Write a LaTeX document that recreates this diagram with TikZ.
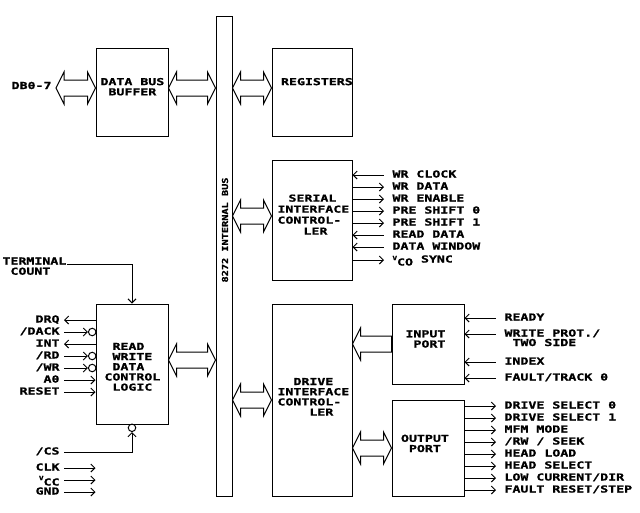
\documentclass[tikz,border=0pt]{standalone}
\usepackage{fontspec}
\newfontfamily\chipfont[FakeStretch=1.38,FakeBold=1.2]{DejaVu Sans Mono}
\newfontfamily\busfont[FakeStretch=1.25,FakeBold=1]{DejaVu Sans Mono}
\usetikzlibrary{arrows.meta,calc}
\newcommand\vsub[1]{\raisebox{2.5pt}{\fontsize{5.5}{6}\selectfont V}\raisebox{-3pt}{#1}}

\tikzset{
  blk/.style={draw,inner sep=0pt},
  txt/.style={font={\fontsize{9.6}{10.2}\chipfont\bfseries},align=left,inner sep=0pt,anchor=north west},
  sig/.style={font={\fontsize{9.6}{10.2}\chipfont\bfseries},inner sep=0pt,text height=7pt,text depth=2pt},
  bub/.style={circle,draw,minimum size=7.5pt,inner sep=0pt},
  fat/.style={to path={let \p1=(\tikztostart),\p2=(\tikztotarget) in
    (\x1,\y1) -- (\x1+8pt,\y1+16pt) -- (\x1+8pt,\y1+8pt) -- (\x2-8pt,\y1+8pt)
    -- (\x2-8pt,\y1+16pt) -- (\x2,\y1) -- (\x2-8pt,\y1-16pt) -- (\x2-8pt,\y1-8pt)
    -- (\x1+8pt,\y1-8pt) -- (\x1+8pt,\y1-16pt) -- cycle}},
  fatin/.style={to path={let \p1=(\tikztostart),\p2=(\tikztotarget) in
    (\x2,\y2) -- (\x2+8pt,\y2+16pt) -- (\x2+8pt,\y2+8pt) -- (\x1,\y2+8pt)
    -- (\x1,\y2-8pt) -- (\x2+8pt,\y2-8pt) -- (\x2+8pt,\y2-16pt) -- cycle}},
}

\begin{document}
\begin{tikzpicture}[x=1pt,y=-1pt,line width=1pt,>={Straight Barb[length=4pt,width=8pt]}]
\useasboundingbox (0,0) rectangle (640,512);

% bus and blocks
\node (bus) [blk,minimum width=16pt,minimum height=480pt] at (224,256) {};
\node (dbb) [blk,minimum width=72pt,minimum height=88pt] at (132,92) {};
\node (reg) [blk,minimum width=80pt,minimum height=88pt] at (312,92) {};
\node (sic) [blk,minimum width=80pt,minimum height=120pt] at (312,220) {};
\node (dic) [blk,minimum width=80pt,minimum height=192pt] at (312,400) {};
\node (ipt) [blk,minimum width=72pt,minimum height=80pt] at (428,344) {};
\node (opt) [blk,minimum width=72pt,minimum height=96pt] at (428,448) {};
\node (rwl) [blk,minimum width=72pt,minimum height=120pt] at (132,364) {};

\node (bustxt) [rotate=90,inner sep=0pt,font={\fontsize{8.2}{9}\busfont\bfseries}] at (225,230) {8272 INTERNAL BUS};
\node (dbbtxt) [txt] at (100,77.5) {DATA BUS\\\phantom{D}BUFFER};
\node (regtxt) [txt] at (280.5,77.5) {REGISTERS};
\node (sictxt) [txt,font={\fontsize{9.6}{11}\chipfont\bfseries}] at (277,194) {\hspace*{11pt}SERIAL\\INTERFACE\\CONTROL-\\\hspace*{26pt}LER};
\node (dictxt) [txt] at (277,377.5) {\phantom{DR}DRIVE\\INTERFACE\\CONTROL-\\\phantom{CONT}LER};
\node (ipttxt) [txt] at (405,329.8) {INPUT\\\phantom{I}PORT};
\node (opttxt) [txt] at (400.5,434.2) {OUTPUT\\\phantom{O}PORT};
\node (rwltxt) [txt] at (104,342.2) {\phantom{C}READ\\\phantom{C}WRITE\\\phantom{C}DATA\\CONTROL\\\phantom{C}LOGIC};

% wide data paths
\node (db) [sig,anchor=east,inner xsep=4pt,text depth=5pt] at (56,88) {DB0-7};
\draw[fat] (db.east) to (dbb.west |- db.east);
\draw[fat] (dbb.east |- 0,88) to (bus.west |- 0,88);
\draw[fat] (bus.east |- 0,88) to (reg.west |- 0,88);
\draw[fat] (bus.east |- 0,216) to (sic.west |- 0,216);
\draw[fat] (rwl.east |- 0,360) to (bus.west |- 0,360);
\draw[fat] (bus.east |- dic.west) to (dic.west);
\draw[fatin] (ipt.west) to (dic.east |- ipt.west);
\draw[fat] (dic.east |- opt.west) to (opt.west);

% serial interface lines
\node (wrclk) [sig,anchor=west] at (392,175) {WR CLOCK};
\node (wrdat) [sig,anchor=west] at (392,187) {WR DATA};
\node (wren) [sig,anchor=west] at (392,199) {WR ENABLE};
\node (ps0) [sig,anchor=west] at (392,211) {PRE SHIFT 0};
\node (ps1) [sig,anchor=west] at (392,223) {PRE SHIFT 1};
\node (rdat) [sig,anchor=west] at (392,235) {READ DATA};
\node (dwin) [sig,anchor=west] at (392,247) {DATA WINDOW};
\node (vco) [sig,anchor=west] at (392,260) {\vsub{CO} SYNC};
\draw[<-] (sic.east |- wrclk.west) -- ([xshift=-8pt]wrclk.west);
\draw[->] (sic.east |- wrdat.west) -- ([xshift=-8pt]wrdat.west);
\draw[->] (sic.east |- wren.west) -- ([xshift=-8pt]wren.west);
\draw[->] (sic.east |- ps0.west) -- ([xshift=-8pt]ps0.west);
\draw[->] (sic.east |- ps1.west) -- ([xshift=-8pt]ps1.west);
\draw[<-] (sic.east |- rdat.west) -- ([xshift=-8pt]rdat.west);
\draw[<-] (sic.east |- dwin.west) -- ([xshift=-8pt]dwin.west);
\draw[->] (sic.east |- vco.west) -- ([xshift=-8pt]vco.west);

% input port lines
\node (rdy) [sig,anchor=west] at (504,318) {READY};
\node (wp) [sig,anchor=west] at (504,334) {WRITE PROT./};
\node (ts) [sig,anchor=west] at (512,343.5) {TWO SIDE};
\node (idx) [sig,anchor=west] at (504,362) {INDEX};
\node (flt) [sig,anchor=west] at (504,378) {FAULT/TRACK 0};
\draw[<-] (ipt.east |- rdy.west) -- ([xshift=-8pt]rdy.west);
\draw[<-] (ipt.east |- wp.west) -- ([xshift=-8pt]wp.west);
\draw[<-] (ipt.east |- idx.west) -- ([xshift=-8pt]idx.west);
\draw[<-] (ipt.east |- flt.west) -- ([xshift=-8pt]flt.west);

% output port lines
\node (ds0) [sig,anchor=west] at (504,406) {DRIVE SELECT 0};
\node (ds1) [sig,anchor=west] at (504,418) {DRIVE SELECT 1};
\node (mfm) [sig,anchor=west] at (504,430) {MFM MODE};
\node (rws) [sig,anchor=west] at (504,442) {/RW / SEEK};
\node (hl) [sig,anchor=west] at (504,454) {HEAD LOAD};
\node (hs) [sig,anchor=west] at (504,466) {HEAD SELECT};
\node (lcd) [sig,anchor=west] at (504,478) {LOW CURRENT/DIR};
\node (frs) [sig,anchor=west] at (504,490) {FAULT RESET/STEP};
\draw[->] (opt.east |- ds0.west) -- ([xshift=-8pt]ds0.west);
\draw[->] (opt.east |- ds1.west) -- ([xshift=-8pt]ds1.west);
\draw[->] (opt.east |- mfm.west) -- ([xshift=-8pt]mfm.west);
\draw[->] (opt.east |- rws.west) -- ([xshift=-8pt]rws.west);
\draw[->] (opt.east |- hl.west) -- ([xshift=-8pt]hl.west);
\draw[->] (opt.east |- hs.west) -- ([xshift=-8pt]hs.west);
\draw[->] (opt.east |- lcd.west) -- ([xshift=-8pt]lcd.west);
\draw[->] (opt.east |- frs.west) -- ([xshift=-8pt]frs.west);

% read/write control lines
\node (tc) [txt] at (2,257) {TERMINAL\\\phantom{T}COUNT};
\draw[->] ([yshift=-7pt]tc.north east) -| (rwl.north);
\node (drq) [sig,anchor=east] at (60,320) {DRQ};
\node (dack) [sig,anchor=east] at (60,332) {/DACK};
\node (int) [sig,anchor=east] at (60,344) {INT};
\node (rd) [sig,anchor=east] at (60,356) {/RD};
\node (wr) [sig,anchor=east] at (60,368) {/WR};
\node (a0) [sig,anchor=east] at (60,380) {A0};
\node (rst) [sig,anchor=east] at (60,392) {RESET};
\node (bdack) [bub] at (92.2,332) {};
\node (brd) [bub] at (92.2,356) {};
\node (bwr) [bub] at (92.2,368) {};
\draw[<-] ([xshift=4pt]drq.east) -- (drq.east -| rwl.west);
\draw[->] ([xshift=4pt]dack.east) -- (bdack.west);
\draw[<-] ([xshift=4pt]int.east) -- (int.east -| rwl.west);
\draw[->] ([xshift=4pt]rd.east) -- (brd.west);
\draw[->] ([xshift=4pt]wr.east) -- (bwr.west);
\draw[->] ([xshift=4pt]a0.east) -- (a0.east -| rwl.west);
\draw[->] ([xshift=4pt]rst.east) -- (rst.east -| rwl.west);

\node (cs) [sig,anchor=east] at (60,452) {/CS};
\node (bcs) [bub] at (132,427.8) {};
\draw[->] ([xshift=4pt]cs.east) -| (bcs.south);

% supply pins
\node (clk) [sig,anchor=east] at (60,468) {CLK};
\node (vcc) [sig,anchor=east] at (60,480) {\vsub{CC}};
\node (gnd) [sig,anchor=east] at (60,492) {GND};
\draw[->] ([xshift=4pt]clk.east) -- (clk.east -| rwl.west);
\draw[->] ([xshift=4pt]vcc.east) -- (vcc.east -| rwl.west);
\draw[->] ([xshift=4pt]gnd.east) -- (gnd.east -| rwl.west);
\end{tikzpicture}
\end{document}
